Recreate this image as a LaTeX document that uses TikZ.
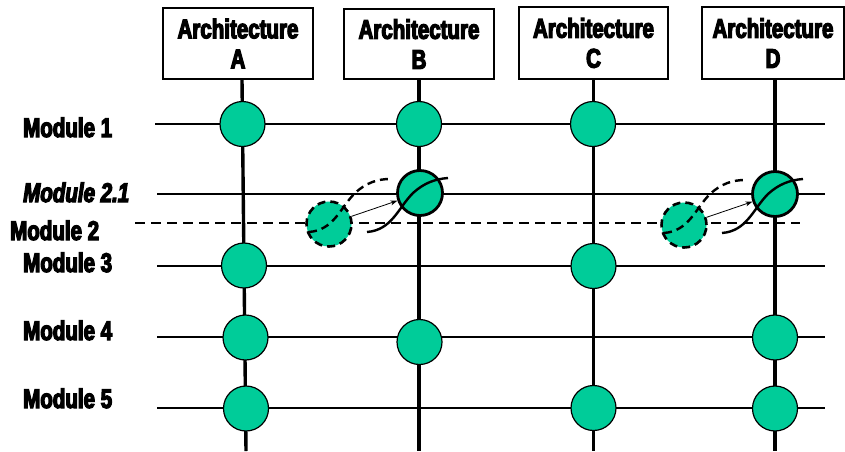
\documentclass[tikz,border=0pt]{standalone}
\usepackage{fontspec}
\newfontfamily\impactfont[FakeStretch=0.76,FakeBold=4.5]{Liberation Sans}
\usetikzlibrary{arrows.meta}
\definecolor{modgreen}{RGB}{0,204,153}

\begin{document}
\begin{tikzpicture}[x=1pt,y=-1pt,
  heavy/.style={font=\impactfont\bfseries\fontsize{27}{30}\selectfont},
  lbl/.style={heavy, inner sep=0pt, anchor=base west},
  archbox/.style={heavy, draw, line width=1.3pt, fill=white, align=center,
    inner sep=0pt},
  bus/.style={line width=1.4pt},
  bus21/.style={line width=2.8pt},
  busdash/.style={line width=2.5pt, dash pattern=on 10pt off 6pt},
  spine/.style={line width=3.4pt},
  mod/.style={circle, draw, fill=modgreen, line width=1.2pt,
    minimum size=45pt, inner sep=0pt},
  newmod/.style={mod, line width=2.8pt},
  ghost/.style={mod, line width=2.6pt, dash pattern=on 8pt off 5pt},
  curve/.style={line width=2.4pt},
  curvedash/.style={curve, dash pattern=on 8pt off 5pt},
  link/.style={line width=0.8pt, -{Stealth[length=7pt,width=5pt]}}
]
\useasboundingbox (0,0) rectangle (845,451);

% module buses
\coordinate (m1w) at (155,124);  \coordinate (m1e) at (825,124);
\coordinate (m21w) at (157,194); \coordinate (m21e) at (825,194);
\coordinate (m2w) at (135,223);  \coordinate (m2e) at (800,223);
\coordinate (m3w) at (157,266);  \coordinate (m3e) at (825,266);
\coordinate (m4w) at (157,337);  \coordinate (m4e) at (825,337);
\coordinate (m5w) at (157,408);  \coordinate (m5e) at (825,408);
\draw[bus] (m1w) -- (m1e);
\draw[bus21] (m21w) -- (m21e);
\draw[busdash] (m2w) -- (m2e);
\draw[bus] (m3w) -- (m3e);
\draw[bus] (m4w) -- (m4e);
\draw[bus] (m5w) -- (m5e);

% architecture headers
\node[archbox, minimum width=150pt, minimum height=71pt] (archA) at (238,43.5) {Architecture\\A};
\node[archbox, minimum width=150pt, minimum height=70pt] (archB) at (419,44) {Architecture\\B};
\node[archbox, minimum width=149pt, minimum height=72pt] (archC) at (593.5,43) {Architecture\\C};
\node[archbox, minimum width=142pt, minimum height=72pt] (archD) at (773,43) {Architecture\\D};

% spines
\coordinate (baseA) at (246,451);
\coordinate (baseB) at (419,451);
\coordinate (baseC) at (593.5,451);
\coordinate (baseD) at (775,451);
\draw[spine] ([xshift=4pt]archA.south) -- (baseA);
\draw[spine] (archB.south) -- (baseB);
\draw[spine] (archC.south) -- (baseC);
\draw[spine] ([xshift=2pt]archD.south) -- (baseD);
% redraw header frames over the spine ends
\foreach \h in {A,B,C,D} {\draw[line width=1.3pt] (arch\h.south west) -- (arch\h.south east);}

% module labels
\node[lbl] (lab1) at (23,137) {Module 1};
\node[lbl] (lab21) at (23,202) {\itshape Module 2.1};
\node[lbl] (lab2) at (10,240) {Module 2};
\node[lbl] (lab3) at (23,272) {Module 3};
\node[lbl] (lab4) at (23,340) {Module 4};
\node[lbl] (lab5) at (23,408) {Module 5};

% modules present in each architecture
\node[mod] (a1) at (242.5,124) {};
\node[mod] (b1) at (419,124) {};
\node[mod] (c1) at (593,124) {};
\node[mod] (a3) at (244,265.5) {};
\node[mod] (c3) at (593.5,266) {};
\node[mod] (a4) at (245.5,337.5) {};
\node[mod] (b4) at (419.5,342) {};
\node[mod] (d4) at (775,337.5) {};
\node[mod] (a5) at (246,408.5) {};
\node[mod] (c5) at (593.5,408) {};
\node[mod] (d5) at (775,408.5) {};

% Module 2 replaced by Module 2.1
\foreach \g/\px/\py in {B/420/193, D/775/194} {
  \begin{scope}[shift={(\px,\py)}]
    \node[newmod] (new\g) at (0,0) {};
    \node[ghost] (old\g) at (-91,31) {};
    \draw[curve] (-53,39) .. controls (-28,37) and (-22,15) .. (-7,0)
      .. controls (4,-10) and (15,-14) .. (28,-15);
    \draw[curvedash] (-111,39) .. controls (-86,37) and (-80,15) .. (-65,0)
      .. controls (-54,-10) and (-43,-14) .. (-30,-14);
    \draw[link] (old\g) -- (new\g);
  \end{scope}
}
\end{tikzpicture}
\end{document}
